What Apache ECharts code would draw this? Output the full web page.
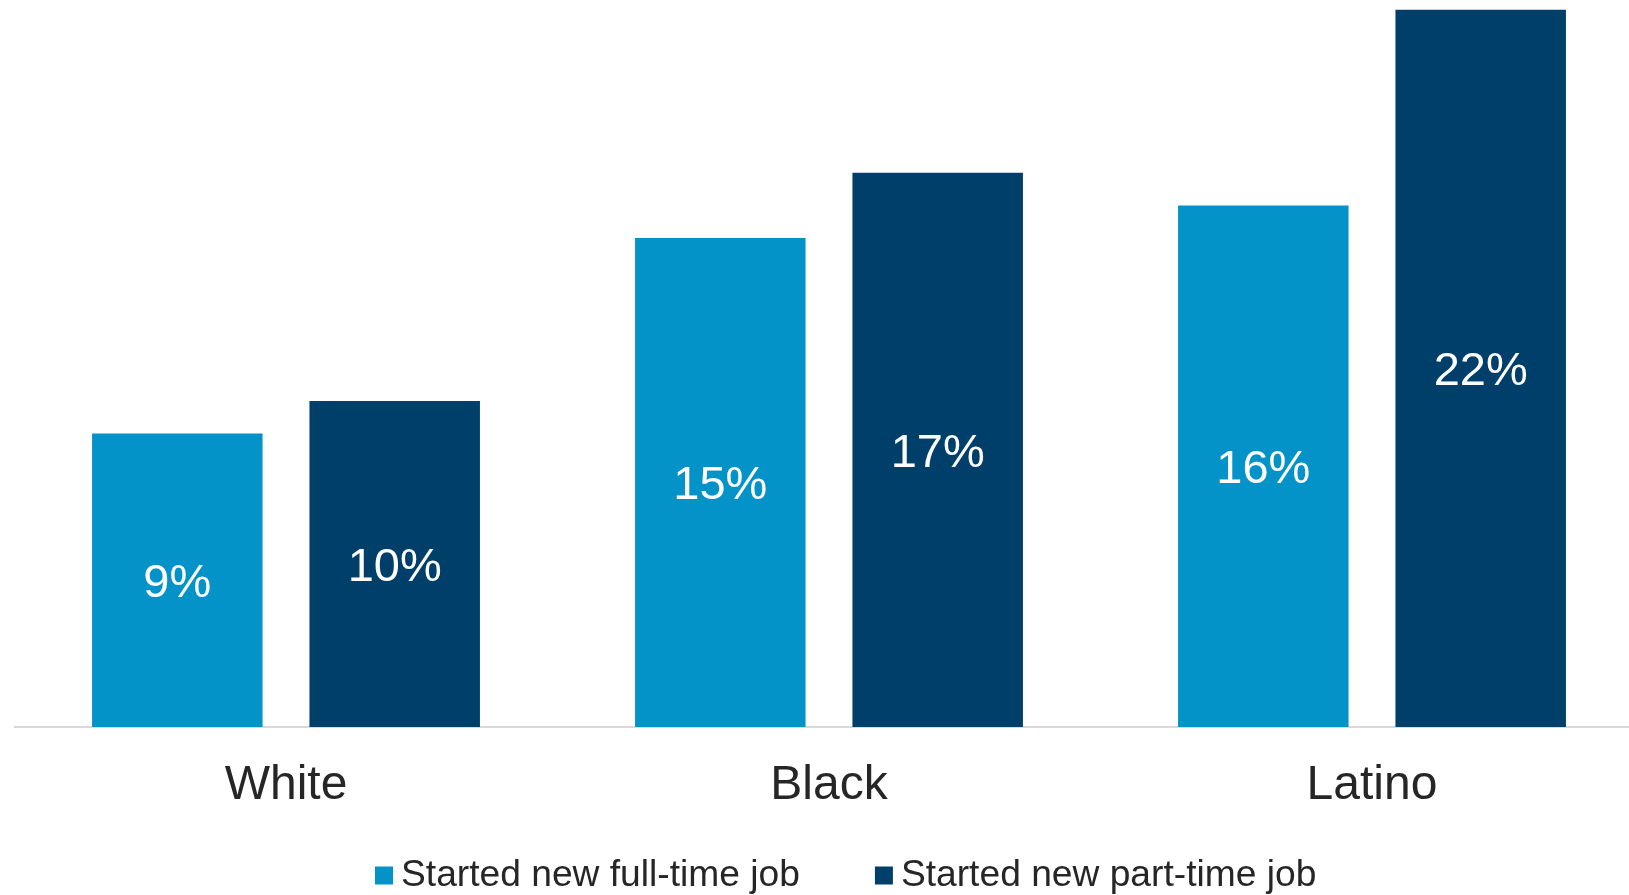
<!DOCTYPE html>
<html>
<head>
<meta charset="utf-8">
<script src="https://cdn.jsdelivr.net/npm/echarts@6/dist/echarts.min.js"></script>
<style>
  html, body { margin: 0; padding: 0; background: #ffffff; overflow: hidden; }
  #chart { width: 1660px; height: 895px; }
</style>
</head>
<body>
<div id="chart"></div>
<script>
// Share of workers who started a new job, by race/ethnicity (%)
const categories = ['White', 'Black', 'Latino'];
const seriesNames = ['Started new full-time job', 'Started new part-time job'];
const fullTime = [9, 15, 16];
const partTime = [10, 17, 22];

const colors = ['#0393C8', '#013F6B'];
const FONT = '"Liberation Sans", Arial, sans-serif';

const chart = echarts.init(document.getElementById('chart'));

const valueLabel = {
  show: true,
  position: 'inside',
  offset: [0, 4],
  color: '#ffffff',
  fontFamily: FONT,
  fontSize: 47,
  formatter: p => p.value + '%'
};

chart.setOption({
  animation: false,
  color: colors,
  // the axis runs past the right edge of the visible area
  grid: { left: 14.5, right: 16.5, top: 0, bottom: 168, containLabel: false },
  legend: {
    data: seriesNames,
    left: 375,
    top: 857,
    padding: 0,
    itemWidth: 18,
    itemHeight: 18,
    itemGap: 75,
    icon: 'rect',
    textStyle: { fontFamily: FONT, fontSize: 37.2, color: '#262626', padding: [0, 0, 0, 3] }
  },
  xAxis: {
    type: 'category',
    data: categories,
    axisLine: { show: true, lineStyle: { color: '#d9d9d9', width: 2 } },
    axisTick: { show: false },
    axisLabel: { margin: 35, fontFamily: FONT, fontSize: 48, color: '#262626' }
  },
  yAxis: {
    type: 'value',
    min: 0,
    max: 22.3,
    show: false,
    splitLine: { show: false }
  },
  series: [
    {
      name: seriesNames[0],
      type: 'bar',
      data: fullTime,
      barWidth: 170.5,
      barGap: '27.5%',
      label: valueLabel
    },
    {
      name: seriesNames[1],
      type: 'bar',
      data: partTime,
      barWidth: 170.5,
      barGap: '27.5%',
      label: valueLabel
    }
  ]
});
</script>
</body>
</html>
